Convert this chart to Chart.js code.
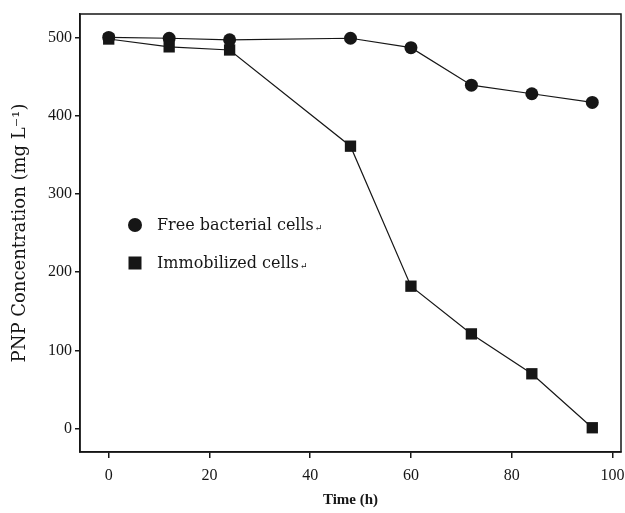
<!DOCTYPE html>
<html>
<head>
<meta charset="utf-8">
<script src="https://cdn.jsdelivr.net/npm/chart.js@4/dist/chart.umd.min.js"></script>
<style>
html,body{margin:0;padding:0;background:#fff;}
#wrap{position:relative;width:625px;height:513px;}
</style>
</head>
<body>
<div id="wrap"><canvas id="c" width="625" height="513"></canvas></div>
<script>
// Data
const timeHours = [0, 12, 24, 48, 60, 72, 84, 96];
const freeCells = [500, 499, 497, 499, 487, 439, 428, 417];
const immobilizedCells = [498, 488, 484, 361, 182, 121, 70, 1];
const seriesNames = ['Free bacterial cells', 'Immobilized cells'];
const xTicks = [0, 20, 40, 60, 80, 100];
const yTicks = [0, 100, 200, 300, 400, 500];

const ink = '#161616';
const serif = "'Liberation Serif', 'DejaVu Serif', serif";
const wideSerif = "'DejaVu Serif', 'Liberation Serif', serif";

const boxPlugin = {
  id: 'box',
  afterDraw(chart) {
    const {ctx, chartArea: a} = chart;
    ctx.save();
    ctx.strokeStyle = ink;
    ctx.lineWidth = 1.5;
    ctx.strokeRect(a.left, a.top, a.right - a.left, a.bottom - a.top);
    ctx.restore();
  }
};

const legendPlugin = {
  id: 'inLegend',
  afterDraw(chart) {
    const {ctx, chartArea: a} = chart;
    ctx.save();
    ctx.fillStyle = ink;
    const mx = a.left + 55;
    const ys = [a.top + 211, a.top + 249];
    ctx.beginPath();
    ctx.arc(mx, ys[0], 7, 0, Math.PI * 2);
    ctx.fill();
    ctx.fillRect(mx - 6.5, ys[1] - 6.5, 13, 13);
    const f = "16px " + wideSerif;
    ctx.textBaseline = 'middle';
    ctx.textAlign = 'left';
    seriesNames.forEach((n, i) => {
      ctx.font = f;
      ctx.fillText(n, mx + 22, ys[i] + 1);
      const w = ctx.measureText(n).width;
      ctx.font = "9px " + serif;
      ctx.fillText('\u21B5', mx + 23 + w, ys[i] + 4);
    });
    ctx.restore();
  }
};

new Chart(document.getElementById('c'), {
  type: 'line',
  data: {
    datasets: [
      {
        label: seriesNames[0],
        data: timeHours.map((t, i) => ({x: t, y: freeCells[i]})),
        borderColor: ink, backgroundColor: ink,
        borderWidth: 1.2, pointStyle: 'circle', pointRadius: 6.5,
        pointBorderWidth: 0, tension: 0
      },
      {
        label: seriesNames[1],
        data: timeHours.map((t, i) => ({x: t, y: immobilizedCells[i]})),
        borderColor: ink, backgroundColor: ink,
        borderWidth: 1.2, pointStyle: 'rect', pointRadius: 8,
        pointBorderWidth: 0, tension: 0
      }
    ]
  },
  options: {
    responsive: false,
    animation: false,
    layout: {autoPadding: false, padding: {left: 0, top: 14, right: 4, bottom: 0}},
    plugins: {legend: {display: false}, tooltip: {enabled: false}},
    scales: {
      x: {
        type: 'linear', min: -5.7, max: 101.7,
        afterBuildTicks: s => { s.ticks = xTicks.map(v => ({value: v})); },
        afterFit: s => { s.height = 61; s.paddingRight = 0; s.paddingLeft = 0; },
        grid: {display: true, drawOnChartArea: false, drawTicks: true, tickLength: 6, color: ink, lineWidth: 1.5},
        border: {display: true, color: ink, width: 1.5},
        ticks: {color: ink, font: {family: serif, size: 16}, padding: 8},
        title: {display: true, text: 'Time (h)', color: ink, font: {family: serif, size: 15, weight: 'bold'}, padding: {top: 1}}
      },
      y: {
        type: 'linear', min: -30, max: 530,
        afterBuildTicks: s => { s.ticks = yTicks.map(v => ({value: v})); },
        afterFit: s => { s.width = 80; s.paddingTop = 0; s.paddingBottom = 0; },
        grid: {display: true, drawOnChartArea: false, drawTicks: true, tickLength: 5, color: ink, lineWidth: 1.5},
        border: {display: true, color: ink, width: 1.5},
        ticks: {color: ink, font: {family: serif, size: 16}, padding: 3},
        title: {display: true, text: 'PNP Concentration (mg L\u207B\u00B9)', color: ink, font: {family: wideSerif, size: 18}, padding: {top: 10, bottom: 4}}
      }
    }
  },
  plugins: [boxPlugin, legendPlugin]
});
</script>
</body>
</html>
